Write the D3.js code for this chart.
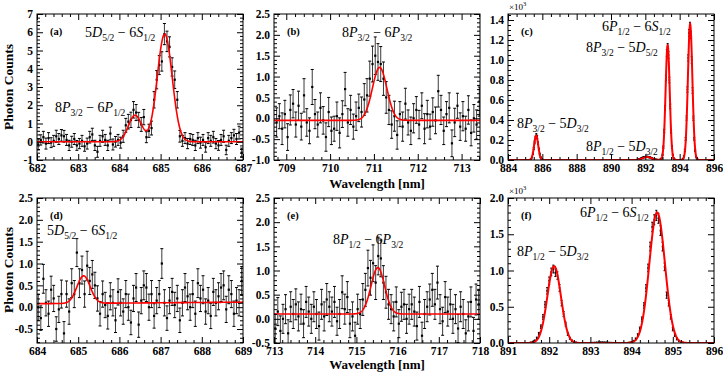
<!DOCTYPE html>
<html>
<head>
<meta charset="utf-8">
<script src="https://cdn.jsdelivr.net/npm/d3@7"></script>
<style>
  body { margin: 0; background: #fff; }
  text { font-family: "Liberation Serif", "Times New Roman", serif; }
  .it { font-style: italic; }
</style>
</head>
<body>
<svg id="chart" width="723" height="372"></svg>
<script>
// ---- panel (a): 682-687 nm ----
const aStart = 682.03, aStep = 0.0625;
const aCounts = [-0.15,0.1,0.25,-0.1,0.2,-0.05,0.05,0.3,0.15,0.35,
  0.3,0.1,-0.2,0.0,0.15,-0.2,-0.1,0.05,-0.25,-0.1,
  0.25,0.4,-0.2,-0.55,0.05,0.3,0.1,-0.2,0.45,-0.15,
  0.0,0.1,-0.05,0.3,0.9,1.1,1.2,1.75,1.6,1.2,
  0.95,1.35,0.25,0.6,0.75,2.3,3.4,4.2,4.4,5.9,
  5.5,5.2,4.1,3.4,2.3,0.3,0.05,0.2,-0.1,0.15,
  0.1,-0.2,0.2,-0.05,0.1,-0.3,0.2,0.05,0.25,-0.1,
  -0.2,0.1,0.3,-0.45,0.05,0.2,0.35,0.15,0.5,-0.6];
const aErrors = [0.3,0.28,0.32,0.3,0.3,0.27,0.3,0.33,0.3,0.32,
  0.32,0.3,0.28,0.3,0.3,0.27,0.28,0.3,0.27,0.3,
  0.32,0.34,0.28,0.3,0.3,0.33,0.3,0.28,0.35,0.3,
  0.29,0.3,0.3,0.33,0.38,0.4,0.42,0.45,0.44,0.41,
  0.38,0.42,0.3,0.36,0.38,0.45,0.5,0.52,0.53,0.58,
  0.56,0.55,0.5,0.48,0.45,0.32,0.3,0.3,0.28,0.3,
  0.3,0.28,0.3,0.3,0.3,0.27,0.3,0.3,0.32,0.28,
  0.27,0.3,0.33,0.26,0.3,0.3,0.33,0.3,0.35,0.25];
const aFitCenters = [684.38, 685.1], aFitHeights = [1.45, 5.9], aFitSigmas = [0.16, 0.18], aFitBase = [0, 0];
const aXTicks = [682, 683, 684, 685, 686, 687];
const aYTicks = [-1, 0, 1, 2, 3, 4, 5, 6, 7];

// ---- panel (b): 708.7-713.4 nm ----
const bStart = 708.78, bStep = 0.0625;
const bCounts = [-0.1,0.05,-0.25,0.1,-0.45,0.2,0.35,-0.15,0.3,-0.2,
  0.55,-0.1,-0.3,0.75,0.1,-0.15,0.25,-0.05,-0.45,0.15,
  -0.3,-0.25,0.05,-0.35,0.1,0.7,-0.1,0.2,-0.2,0.05,
  0.25,0.15,0.45,0.55,0.95,1.3,1.5,1.35,1.3,0.95,
  0.5,0.2,-0.15,0.05,-0.4,0.1,-0.2,0.35,-0.1,-0.3,
  0.0,0.2,-0.15,0.3,-0.25,0.1,-0.2,0.15,-0.05,0.65,
  0.2,-0.3,0.1,0.25,-0.6,-0.1,0.3,-0.2,0.05,-0.25,
  0.2,-0.35,0.0,-0.15,0.4];
const bErrors = [0.35,0.3,0.38,0.33,0.32,0.36,0.34,0.3,0.35,0.32,
  0.4,0.33,0.31,0.42,0.35,0.3,0.36,0.33,0.34,0.35,
  0.33,0.3,0.34,0.36,0.32,0.4,0.33,0.35,0.3,0.34,
  0.33,0.36,0.38,0.4,0.42,0.43,0.45,0.44,0.42,0.4,
  0.38,0.35,0.33,0.36,0.34,0.3,0.35,0.37,0.3,0.33,
  0.35,0.32,0.34,0.31,0.36,0.33,0.3,0.34,0.32,0.38,
  0.35,0.33,0.3,0.36,0.32,0.34,0.3,0.33,0.35,0.3,
  0.34,0.31,0.33,0.35,0.35];
const bFitCenters = [711.13], bFitHeights = [1.27], bFitSigmas = [0.165], bFitBase = [-0.05, 0];
const bXTicks = [709, 710, 711, 712, 713];
const bYTicks = [-1, -0.5, 0, 0.5, 1, 1.5, 2, 2.5];

// ---- panel (c): 884-896 nm, x10^3 counts ----
const cStart = 884, cStep = 0.05;
const cCounts = [
  // 884.00-885.25
  0,0,0,0,0,0,0,0,0,0,
  0,0,0,0,0,0,0,0,0,0,
  0,0,0,0,0,0,
  // 885.30-886.00
  0.003,0.011,0.028,0.062,0.114,0.176,0.222,0.248,0.231,0.168,0.109,0.060,0.027,0.012,0.004,
  // 886.05-891.55
  0,0,0,0,0,0,0,0,0,0,
  0,0,0,0,0,0,0,0,0,0,
  0,0,0,0,0,0,0,0,0,0,
  0,0,0,0,0,0,0,0,0,0,
  0,0,0,0,0,0,0,0,0,0,
  0,0,0,0,0,0,0,0,0,0,
  0,0,0,0,0,0,0,0,0,0,
  0,0,0,0,0,0,0,0,0,0,
  0,0,0,0,0,0,0,0,0,0,
  0,0,0,0,0,0,0,0,0,0,
  0,0,0,0,0,0,0,0,0,0,
  0,
  // 891.60-892.85
  0.005,0.008,0.012,0.016,0.020,0.024,0.027,0.029,0.030,0.031,
  0.032,0.030,0.029,0.027,0.024,0.020,0.016,0.012,0.009,0.007,
  0.005,0.004,0.003,0.003,0.003,0.004,
  // 892.90-893.70
  0.006,0.017,0.052,0.128,0.290,0.520,0.820,1.07,1.13,1.05,0.80,0.535,0.285,0.132,0.050,0.017,0.006,
  // 893.75-894.10
  0.003,0.002,0.002,0.002,0.002,0.002,0.002,0.003,
  // 894.15-895.05
  0.004,0.013,0.038,0.097,0.210,0.420,0.705,1.02,1.27,1.34,1.25,1.00,0.695,0.418,0.212,0.093,0.036,0.012,0.004,
  // 895.10-896.00
  0,0,0,0,0,0,0,0,0,0,
  0,0,0,0,0,0,0,0,0
];
const cErrors = [
  0.002,0.002,0.002,0.002,0.002,0.002,0.002,0.002,0.002,0.002,
  0.002,0.002,0.002,0.002,0.002,0.002,0.002,0.002,0.002,0.002,
  0.002,0.002,0.002,0.002,0.002,0.002,
  0.003,0.004,0.006,0.008,0.011,0.014,0.015,0.016,0.016,0.013,0.011,0.008,0.006,0.004,0.003,
  0.002,0.002,0.002,0.002,0.002,0.002,0.002,0.002,0.002,0.002,
  0.002,0.002,0.002,0.002,0.002,0.002,0.002,0.002,0.002,0.002,
  0.002,0.002,0.002,0.002,0.002,0.002,0.002,0.002,0.002,0.002,
  0.002,0.002,0.002,0.002,0.002,0.002,0.002,0.002,0.002,0.002,
  0.002,0.002,0.002,0.002,0.002,0.002,0.002,0.002,0.002,0.002,
  0.002,0.002,0.002,0.002,0.002,0.002,0.002,0.002,0.002,0.002,
  0.002,0.002,0.002,0.002,0.002,0.002,0.002,0.002,0.002,0.002,
  0.002,0.002,0.002,0.002,0.002,0.002,0.002,0.002,0.002,0.002,
  0.002,0.002,0.002,0.002,0.002,0.002,0.002,0.002,0.002,0.002,
  0.002,0.002,0.002,0.002,0.002,0.002,0.002,0.002,0.002,0.002,
  0.002,0.002,0.002,0.002,0.002,0.002,0.002,0.002,0.002,0.002,
  0.002,
  0.003,0.003,0.004,0.004,0.005,0.005,0.005,0.005,0.006,0.006,
  0.006,0.006,0.005,0.005,0.005,0.005,0.004,0.004,0.003,0.003,
  0.003,0.002,0.002,0.002,0.002,0.002,
  0.003,0.004,0.007,0.012,0.017,0.023,0.029,0.033,0.034,0.033,0.028,0.023,0.017,0.012,0.007,0.004,0.003,
  0.002,0.002,0.002,0.002,0.002,0.002,0.002,0.002,
  0.002,0.004,0.006,0.010,0.015,0.021,0.027,0.032,0.036,0.037,0.036,0.032,0.027,0.021,0.015,0.010,0.006,0.004,0.002,
  0.002,0.002,0.002,0.002,0.002,0.002,0.002,0.002,0.002,0.002,
  0.002,0.002,0.002,0.002,0.002,0.002,0.002,0.002,0.002
];
const cFitCenters = [885.64, 892.1, 893.3, 894.61], cFitHeights = [0.245, 0.03, 1.15, 1.36],
      cFitSigmas = [0.12, 0.25, 0.12, 0.13], cFitBase = [0, 0];
const cXTicks = [884, 886, 888, 890, 892, 894, 896];
const cYTicks = [0, 0.2, 0.4, 0.6, 0.8, 1.0, 1.2, 1.4];

// ---- panel (d): 684-689 nm ----
const dStart = 684.03, dStep = 0.0625;
const dCounts = [0.0,-0.25,0.65,0.1,-0.15,0.4,0.2,-0.5,-0.05,0.3,
  -0.6,0.3,-0.1,0.55,0.3,1.25,0.55,0.85,0.3,0.95,
  0.6,0.75,0.5,0.2,-0.15,0.3,0.05,-0.2,0.25,0.1,
  -0.3,0.35,0.1,-0.1,0.3,0.0,-0.35,0.2,0.45,-0.4,
  0.15,0.5,0.45,0.0,0.3,-0.2,0.15,0.3,1.0,0.1,
  -0.25,0.15,0.35,0.05,0.2,-0.3,0.1,0.45,0.25,0.0,
  0.3,-0.15,0.55,0.2,0.4,-0.1,0.15,-0.2,0.35,0.1,
  0.25,0.45,0.5,-0.05,0.4,0.3,-0.15,0.15,0.1,0.6];
const dErrors = [0.3,0.28,0.33,0.3,0.29,0.31,0.3,0.28,0.3,0.32,
  0.27,0.3,0.29,0.33,0.31,0.32,0.33,0.32,0.3,0.33,
  0.31,0.32,0.3,0.29,0.28,0.3,0.29,0.3,0.31,0.3,
  0.28,0.3,0.3,0.29,0.31,0.3,0.28,0.3,0.32,0.29,
  0.3,0.33,0.32,0.3,0.31,0.28,0.3,0.31,0.34,0.3,
  0.28,0.3,0.31,0.29,0.3,0.28,0.3,0.32,0.31,0.3,
  0.31,0.29,0.33,0.3,0.32,0.29,0.3,0.29,0.31,0.3,
  0.31,0.32,0.33,0.3,0.32,0.31,0.29,0.3,0.3,0.33];
const dFitCenters = [685.13], dFitHeights = [0.63], dFitSigmas = [0.16], dFitBase = [0.08, 0.007];
const dXTicks = [684, 685, 686, 687, 688, 689];
const dYTicks = [-0.5, 0, 0.5, 1, 1.5, 2, 2.5];

// ---- panel (e): 713-718 nm ----
const eStart = 713.03, eStep = 0.0625;
const eCounts = [-0.2,0.15,-0.25,0.0,0.2,-0.3,0.25,0.1,0.3,0.05,
  0.2,-0.1,0.35,0.15,0.0,0.25,0.1,-0.15,0.3,0.05,
  0.4,0.25,0.15,0.35,-0.05,0.1,0.55,0.2,0.45,-0.1,
  0.05,-0.35,0.2,0.1,0.4,0.6,1.05,0.85,1.15,0.75,
  1.3,1.25,0.75,0.55,0.3,0.2,0.05,0.35,-0.1,0.25,
  0.3,0.0,0.2,0.3,0.15,-0.15,0.35,-0.35,0.1,0.25,
  0.4,0.6,0.3,0.75,0.2,-0.05,0.45,0.15,0.3,0.0,
  0.2,-0.2,0.25,0.1,-0.3,0.05,0.35,-0.25,0.4,0.3];
const eErrors = [0.3,0.29,0.31,0.3,0.3,0.28,0.31,0.3,0.32,0.3,
  0.31,0.29,0.32,0.3,0.3,0.31,0.3,0.29,0.31,0.3,
  0.33,0.31,0.3,0.32,0.29,0.3,0.34,0.31,0.32,0.29,
  0.3,0.28,0.31,0.3,0.33,0.34,0.37,0.36,0.38,0.35,
  0.39,0.38,0.35,0.33,0.31,0.3,0.3,0.31,0.29,0.3,
  0.31,0.3,0.31,0.31,0.3,0.29,0.32,0.28,0.3,0.31,
  0.32,0.34,0.31,0.34,0.3,0.29,0.32,0.3,0.31,0.3,
  0.3,0.29,0.31,0.3,0.28,0.3,0.31,0.28,0.32,0.31];
const eFitCenters = [715.52], eFitHeights = [0.96], eFitSigmas = [0.165], eFitBase = [0.1, 0];
const eXTicks = [713, 714, 715, 716, 717, 718];
const eYTicks = [-0.5, 0, 0.5, 1, 1.5, 2, 2.5];

// ---- panel (f): 891-896 nm, x10^3 counts ----
const fStart = 891, fStep = 0.05;
const fCounts = [
  0,0,0,0,0,0,0,0,0,0,0,
  0.006,0.014,0.032,0.067,0.127,0.224,0.359,0.531,0.719,0.86,0.98,1.02,0.97,0.93,0.76,0.55,0.40,0.26,0.125,0.066,0.032,0.014,0.006,
  0.003,0.002,0.002,0.002,0.002,0.003,0.004,0.005,0.006,0.008,
  0.009,0.010,0.010,0.009,0.008,0.006,0.005,0.004,0.003,0.003,
  0.002,0.002,0.002,0.003,0.004,
  0.005,0.012,0.027,0.056,0.109,0.196,0.329,0.517,0.758,1.035,1.33,1.60,1.70,1.76,1.72,1.55,1.33,1.05,0.66,0.55,0.36,0.19,0.109,0.056,0.027,0.012,0.005,
  0,0,0,0,0,0,0,0,0,0,0,0,0,0,0
];
const fErrors = [
  0.002,0.002,0.002,0.002,0.002,0.002,0.002,0.002,0.002,0.002,0.002,
  0.005,0.006,0.009,0.014,0.019,0.025,0.032,0.038,0.045,0.050,0.053,0.054,0.053,0.051,0.046,0.038,0.034,0.027,0.019,0.014,0.009,0.006,0.005,
  0.002,0.002,0.002,0.002,0.002,0.002,0.002,0.002,0.002,0.002,
  0.002,0.002,0.002,0.002,0.002,0.002,0.002,0.002,0.002,0.002,
  0.002,0.002,0.002,0.002,0.002,
  0.005,0.006,0.009,0.013,0.018,0.024,0.030,0.038,0.046,0.053,0.061,0.066,0.069,0.070,0.069,0.066,0.061,0.053,0.043,0.040,0.030,0.022,0.018,0.013,0.009,0.006,0.005,
  0.002,0.002,0.002,0.002,0.002,0.002,0.002,0.002,0.002,0.002,0.002,0.002,0.002,0.002,0.002
];
const fFitCenters = [892.12, 894.62], fFitHeights = [1.06, 1.8], fFitSigmas = [0.165, 0.19], fFitBase = [0, 0];
const fXTicks = [891, 892, 893, 894, 895, 896];
const fYTicks = [0, 0.5, 1, 1.5, 2];

// transition labels: [n1, L1, sub1, n2, L2, sub2]
const lblA1 = ["5", "D", "5/2", "6", "S", "1/2"];
const lblA2 = ["8", "P", "3/2", "6", "P", "1/2"];
const lblB1 = ["8", "P", "3/2", "6", "P", "3/2"];
const lblC1 = ["6", "P", "1/2", "6", "S", "1/2"];
const lblC2 = ["8", "P", "3/2", "5", "D", "5/2"];
const lblC3 = ["8", "P", "3/2", "5", "D", "3/2"];
const lblC4 = ["8", "P", "1/2", "5", "D", "3/2"];
const lblD1 = ["5", "D", "5/2", "6", "S", "1/2"];
const lblE1 = ["8", "P", "1/2", "6", "P", "3/2"];
const lblF1 = ["6", "P", "1/2", "6", "S", "1/2"];
const lblF2 = ["8", "P", "1/2", "5", "D", "3/2"];

const svg = d3.select("#chart");

const panels = [
  { id: "a", tag: "(a)", box: [37, 14, 243, 160], xDomain: [682, 687], yDomain: [-1, 7],
    start: aStart, step: aStep, values: aCounts, errors: aErrors,
    fit: { centers: aFitCenters, heights: aFitHeights, sigmas: aFitSigmas, base: aFitBase },
    xTicks: aXTicks, yTicks: aYTicks, xMinor: 0.2, yMinor: 0.2, yDec: 0,
    labels: [[lblA1, 85, 37], [lblA2, 55, 112]], dense: false },
  { id: "b", tag: "(b)", box: [274, 14, 480, 160], xDomain: [708.72, 713.42], yDomain: [-1, 2.5],
    start: bStart, step: bStep, values: bCounts, errors: bErrors,
    fit: { centers: bFitCenters, heights: bFitHeights, sigmas: bFitSigmas, base: bFitBase },
    xTicks: bXTicks, yTicks: bYTicks, xMinor: 0.2, yMinor: 0.1, yDec: 1,
    labels: [[lblB1, 342, 37]], dense: false },
  { id: "c", tag: "(c)", box: [508, 14, 714, 160], xDomain: [884, 896], yDomain: [0, 1.46],
    start: cStart, step: cStep, values: cCounts, errors: cErrors,
    fit: { centers: cFitCenters, heights: cFitHeights, sigmas: cFitSigmas, base: cFitBase },
    xTicks: cXTicks, yTicks: cYTicks, xMinor: 0.5, yMinor: 0.05, yDec: 1,
    labels: [[lblC1, 602, 31], [lblC2, 586, 52], [lblC3, 517, 128], [lblC4, 586, 151]], dense: true },
  { id: "d", tag: "(d)", box: [37, 198, 243, 343], xDomain: [684, 689], yDomain: [-0.82, 2.5],
    start: dStart, step: dStep, values: dCounts, errors: dErrors,
    fit: { centers: dFitCenters, heights: dFitHeights, sigmas: dFitSigmas, base: dFitBase },
    xTicks: dXTicks, yTicks: dYTicks, xMinor: 0.2, yMinor: 0.1, yDec: 1,
    labels: [[lblD1, 47, 235]], dense: false },
  { id: "e", tag: "(e)", box: [274, 198, 480, 343], xDomain: [713, 718], yDomain: [-0.5, 2.5],
    start: eStart, step: eStep, values: eCounts, errors: eErrors,
    fit: { centers: eFitCenters, heights: eFitHeights, sigmas: eFitSigmas, base: eFitBase },
    xTicks: eXTicks, yTicks: eYTicks, xMinor: 0.2, yMinor: 0.1, yDec: 1,
    labels: [[lblE1, 333, 244]], dense: false },
  { id: "f", tag: "(f)", box: [508, 198, 714, 343], xDomain: [891, 896], yDomain: [0, 2],
    start: fStart, step: fStep, values: fCounts, errors: fErrors,
    fit: { centers: fFitCenters, heights: fFitHeights, sigmas: fFitSigmas, base: fFitBase },
    xTicks: fXTicks, yTicks: fYTicks, xMinor: 0.2, yMinor: 0.1, yDec: 1,
    labels: [[lblF1, 580, 217], [lblF2, 517, 256]], dense: true }
];

function minorValues(domain, step, majors) {
  const n0 = Math.ceil(domain[0] / step - 1e-6), n1 = Math.floor(domain[1] / step + 1e-6);
  return d3.range(n0, n1 + 1).map(n => +(n * step).toFixed(4))
    .filter(v => !majors.some(m => Math.abs(m - v) < 1e-6));
}

function styleAxis(g) {
  g.select(".domain").remove();
  g.selectAll("line").attr("stroke", "#000");
  g.selectAll("text").attr("font-family", "Liberation Serif, serif")
    .attr("font-size", 11.5).attr("font-weight", "bold").attr("fill", "#000");
}

function transition(g, parts, x, y) {
  const t = g.append("text").attr("x", x).attr("y", y).attr("font-size", 14).attr("fill", "#000");
  t.append("tspan").text(parts[0]);
  t.append("tspan").attr("class", "it").text(parts[1]);
  t.append("tspan").attr("font-size", 9.5).attr("dy", 3.5).text(parts[2]);
  t.append("tspan").attr("dy", -3.5).text(" \u2212 " + parts[3]);
  t.append("tspan").attr("class", "it").text(parts[4]);
  t.append("tspan").attr("font-size", 9.5).attr("dy", 3.5).text(parts[5]);
}

panels.forEach(p => {
  const [L, T, R, B] = p.box;
  const x = d3.scaleLinear().domain(p.xDomain).range([L, R]);
  const y = d3.scaleLinear().domain(p.yDomain).range([B, T]);
  const g = svg.append("g");

  svg.append("clipPath").attr("id", "clip-" + p.id)
    .append("rect").attr("x", L).attr("y", T).attr("width", R - L).attr("height", B - T);
  const plot = g.append("g").attr("clip-path", "url(#clip-" + p.id + ")");

  const pts = p.values.map((v, i) => ({ w: p.start + p.step * i, v: v, e: p.errors[i] }));

  const fitFn = w => p.fit.base[0] + p.fit.base[1] * (w - p.xDomain[0]) +
    d3.sum(p.fit.centers, (c, k) => p.fit.heights[k] * Math.exp(-((w - c) ** 2) / (2 * p.fit.sigmas[k] ** 2)));
  const span = p.xDomain[1] - p.xDomain[0];
  const fitXs = d3.range(p.xDomain[0], p.xDomain[1], span / 900).concat([p.xDomain[1]]);
  const line = d3.line().x(w => x(w)).y(w => y(fitFn(w)));

  // data points with error bars
  const cap = p.dense ? 1.0 : 1.5;
  const ms = p.dense ? 1.6 : 2.2;
  const pg = plot.append("g");
  pg.selectAll("line.bar").data(pts).join("line").attr("class", "bar")
    .attr("x1", d => x(d.w)).attr("x2", d => x(d.w))
    .attr("y1", d => y(d.v - d.e)).attr("y2", d => y(d.v + d.e))
    .attr("stroke", p.dense ? "#111" : "#3a3a3a").attr("stroke-width", 1);
  pg.selectAll("line.capT").data(pts).join("line").attr("class", "capT")
    .attr("x1", d => x(d.w) - cap).attr("x2", d => x(d.w) + cap)
    .attr("y1", d => y(d.v + d.e)).attr("y2", d => y(d.v + d.e))
    .attr("stroke", "#000").attr("stroke-width", 1);
  pg.selectAll("line.capB").data(pts).join("line").attr("class", "capB")
    .attr("x1", d => x(d.w) - cap).attr("x2", d => x(d.w) + cap)
    .attr("y1", d => y(d.v - d.e)).attr("y2", d => y(d.v - d.e))
    .attr("stroke", "#000").attr("stroke-width", 1);
  pg.selectAll("rect").data(pts).join("rect")
    .attr("x", d => x(d.w) - ms / 2).attr("y", d => y(d.v) - ms / 2)
    .attr("width", ms).attr("height", ms).attr("fill", "#000");

  // fitted curve
  plot.append("path").attr("d", line(fitXs)).attr("fill", "none")
    .attr("stroke", "#ff0000").attr("stroke-width", p.dense ? 2.0 : 1.6);

  // axes: major + minor ticks drawn inward on all four sides
  const xMin = minorValues(p.xDomain, p.xMinor, p.xTicks);
  const yMin = minorValues(p.yDomain, p.yMinor, p.yTicks);
  const fmtY = d => d.toFixed(p.yDec);

  g.append("g").attr("transform", `translate(0,${B})`)
    .call(d3.axisBottom(x).tickValues(p.xTicks).tickSize(-6).tickPadding(4).tickFormat(d3.format("d")))
    .call(styleAxis);
  g.append("g").attr("transform", `translate(0,${B})`)
    .call(d3.axisBottom(x).tickValues(xMin).tickSize(-3).tickFormat("")).call(styleAxis);
  g.append("g").attr("transform", `translate(0,${T})`)
    .call(d3.axisTop(x).tickValues(p.xTicks).tickSize(-6).tickFormat("")).call(styleAxis);
  g.append("g").attr("transform", `translate(0,${T})`)
    .call(d3.axisTop(x).tickValues(xMin).tickSize(-3).tickFormat("")).call(styleAxis);

  g.append("g").attr("transform", `translate(${L},0)`)
    .call(d3.axisLeft(y).tickValues(p.yTicks).tickSize(-6).tickPadding(4).tickFormat(fmtY))
    .call(styleAxis);
  g.append("g").attr("transform", `translate(${L},0)`)
    .call(d3.axisLeft(y).tickValues(yMin).tickSize(-3).tickFormat("")).call(styleAxis);
  g.append("g").attr("transform", `translate(${R},0)`)
    .call(d3.axisRight(y).tickValues(p.yTicks).tickSize(-6).tickFormat("")).call(styleAxis);
  g.append("g").attr("transform", `translate(${R},0)`)
    .call(d3.axisRight(y).tickValues(yMin).tickSize(-3).tickFormat("")).call(styleAxis);

  g.append("rect").attr("x", L).attr("y", T).attr("width", R - L).attr("height", B - T)
    .attr("fill", "none").attr("stroke", "#000").attr("stroke-width", 1);

  // panel tag and transition labels
  g.append("text").attr("x", L + 13).attr("y", T + 21).attr("font-size", 10.5)
    .attr("font-weight", "bold").text(p.tag);
  p.labels.forEach(l => transition(g, l[0], l[1], l[2]));

  if (p.dense) {
    const s = g.append("text").attr("x", L + 1).attr("y", T - 4).attr("font-size", 9);
    s.append("tspan").text("\u00d710");
    s.append("tspan").attr("font-size", 6.5).attr("dy", -4).text("3");
  }
});

// axis titles
[87, 270].forEach(cy => {
  svg.append("text").attr("transform", `translate(13,${cy}) rotate(-90)`)
    .attr("text-anchor", "middle").attr("font-size", 13.5).attr("font-weight", "bold")
    .text("Photon Counts");
});
[188, 369].forEach(by => {
  svg.append("text").attr("x", 377).attr("y", by).attr("text-anchor", "middle")
    .attr("font-size", 13).attr("font-weight", "bold").text("Wavelength [nm]");
});
</script>
</body>
</html>
